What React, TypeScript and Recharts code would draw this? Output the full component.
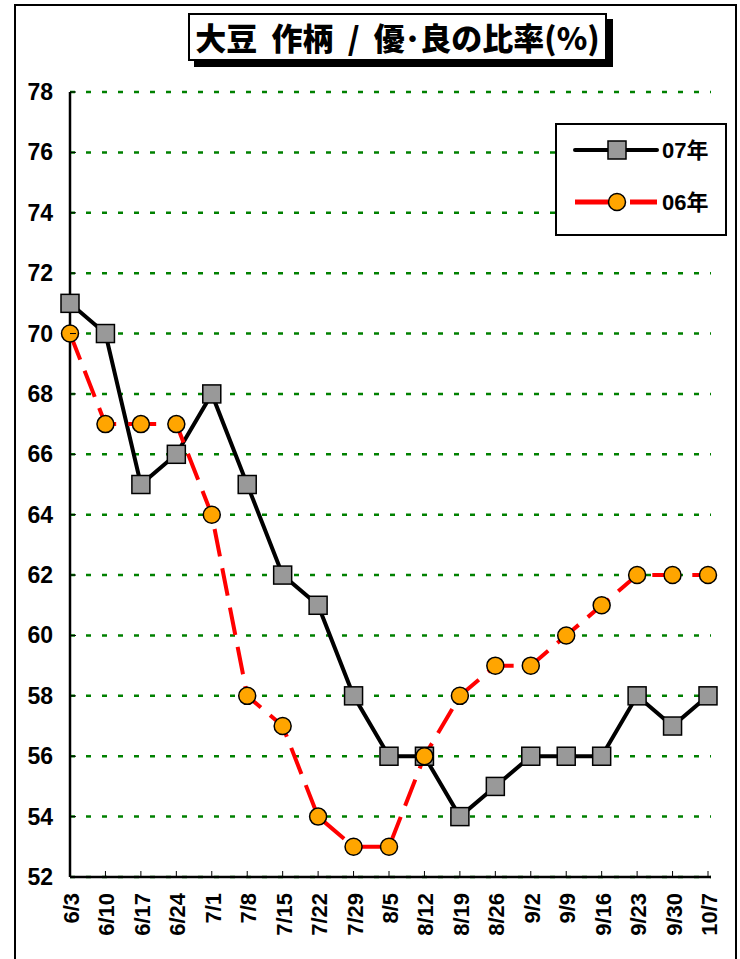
import { CartesianGrid, Legend, Line, LineChart, XAxis, YAxis } from 'recharts';

const DATES = ['6/3', '6/10', '6/17', '6/24', '7/1', '7/8', '7/15', '7/22', '7/29', '8/5',
  '8/12', '8/19', '8/26', '9/2', '9/9', '9/16', '9/23', '9/30', '10/7'];
const Y07 = [71, 70, 65, 66, 68, 65, 62, 61, 58, 56, 56, 54, 55, 56, 56, 56, 58, 57, 58];
const Y06 = [70, 67, 67, 67, 64, 58, 57, 54, 53, 53, 56, 58, 59, 59, 60, 61, 62, 62, 62];
const Y_TICKS = [52, 54, 56, 58, 60, 62, 64, 66, 68, 70, 72, 74, 76, 78];
const SERIES = ['07年', '06年'];

const data = DATES.map((d, i) => ({ date: d, y07: Y07[i], y06: Y06[i] }));

const FONT = "'Liberation Sans', Arial, 'Noto Sans CJK JP', sans-serif";
const DASH = '28 12';
const AXIS_BOTTOM = 877;

const square = (p: any) => (
  <rect key={`s${p.index}`} x={p.cx - 9} y={p.cy - 9} width={18} height={18}
    fill="#999999" stroke="#000" strokeWidth={1.5} />
);
const circle = (p: any) => (
  <circle key={`c${p.index}`} cx={p.cx} cy={p.cy} r={8.5} fill="#FFA500" stroke="#000" strokeWidth={1.5} />
);

// x labels run upward, top end just below the axis
function XTick({ x, payload }: any) {
  const ty = AXIS_BOTTOM + 16;
  return (
    <g>
      <line x1={x} y1={AXIS_BOTTOM} x2={x} y2={AXIS_BOTTOM - 6} stroke="#000" strokeWidth={1} />
      <text x={x + 9} y={ty} transform={`rotate(-90 ${x + 9} ${ty})`} textAnchor="end"
        style={{ fontFamily: FONT, fontWeight: 700, fontSize: '22px' }} fill="#000">{payload.value}</text>
    </g>
  );
}

function YTick({ y, payload }: any) {
  return (
    <g>
      <line x1={70} y1={y} x2={76} y2={y} stroke="#000" strokeWidth={1} />
      <text x={53} y={y + 8} textAnchor="end" style={{ fontFamily: FONT, fontWeight: 700, fontSize: '23px' }} fill="#000">
        {payload.value}
      </text>
    </g>
  );
}

function LegendBox() {
  return (
    <div style={{ width: 172, height: 113, boxSizing: 'border-box', border: '2px solid #000', background: '#fff' }}>
      <svg width={168} height={109} style={{ display: 'block' }}>
        <line x1={18} y1={25} x2={100} y2={25} stroke="#000" strokeWidth={4} strokeLinecap="round" />
        <rect x={51} y={16} width={18} height={18} fill="#999999" stroke="#000" strokeWidth={1.5} />
        <text x={105} y={33} style={{ fontFamily: FONT, fontWeight: 700, fontSize: '22px' }}>{SERIES[0]}</text>
        <line x1={18} y1={77} x2={53} y2={77} stroke="#FF0000" strokeWidth={5} />
        <line x1={73} y1={77} x2={100} y2={77} stroke="#FF0000" strokeWidth={5} />
        <circle cx={60} cy={77} r={8.5} fill="#FFA500" stroke="#000" strokeWidth={1.5} />
        <text x={105} y={85} style={{ fontFamily: FONT, fontWeight: 700, fontSize: '22px' }}>{SERIES[1]}</text>
      </svg>
    </div>
  );
}

export default function App() {
  return (
    <div style={{ position: 'absolute', left: 0, top: 0, width: 740, height: 959, overflow: 'hidden', background: '#fff' }}>
      <div style={{
        position: 'absolute', left: 14, top: 4, width: 723, height: 1100, boxSizing: 'border-box',
        border: '2.5px solid #000',
      }} />
      <div style={{
        position: 'absolute', left: 188, top: 13, width: 419, height: 48, boxSizing: 'border-box',
        border: '2px solid #000', background: '#fff', boxShadow: '6px 6px 0 #000',
        display: 'flex', alignItems: 'center', justifyContent: 'center', whiteSpace: 'pre',
        fontFamily: "'Noto Sans CJK JP', sans-serif", fontWeight: 900, fontSize: 31, color: '#000',
        lineHeight: 1, paddingBottom: 2,
      }}>
        {'大豆  作柄  /  優･良の比率(%)'}
      </div>
      <div style={{ position: 'absolute', left: 0, top: 0 }}>
        <LineChart width={740} height={959} data={data} margin={{ top: 92, right: 29, bottom: 0, left: 0 }}>
          <CartesianGrid horizontal vertical={false} stroke="#008000" strokeWidth={2.5} strokeDasharray="5 11" />
          <XAxis dataKey="date" interval={0} height={959 - AXIS_BOTTOM} padding={{ left: 0, right: 3 }}
            axisLine={{ stroke: '#000', strokeWidth: 2.5 }} tickLine={false}
            tick={<XTick />} />
          <XAxis xAxisId="top" orientation="top" height={0} tick={false} tickLine={false}
            axisLine={{ stroke: '#000', strokeWidth: 2 }} />
          <YAxis domain={[52, 78]} ticks={Y_TICKS} width={70} interval={0}
            axisLine={{ stroke: '#000', strokeWidth: 2.5 }} tickLine={false}
            tick={<YTick />} />
          <YAxis yAxisId="right" orientation="right" domain={[52, 78]} width={0} tick={false} tickLine={false}
            axisLine={{ stroke: '#000', strokeWidth: 2 }} />
          <Legend layout="vertical" align="center" verticalAlign="middle" content={<LegendBox />}
            wrapperStyle={{ left: 555, top: 123, width: 172, height: 113 }} />
          <Line dataKey="y07" name={SERIES[0]} stroke="#000" strokeWidth={4} dot={square}
            isAnimationActive={false} />
          <Line dataKey="y06" name={SERIES[1]} stroke="#FF0000" strokeWidth={4} strokeDasharray={DASH}
            dot={circle} isAnimationActive={false} />
        </LineChart>
      </div>
    </div>
  );
}
